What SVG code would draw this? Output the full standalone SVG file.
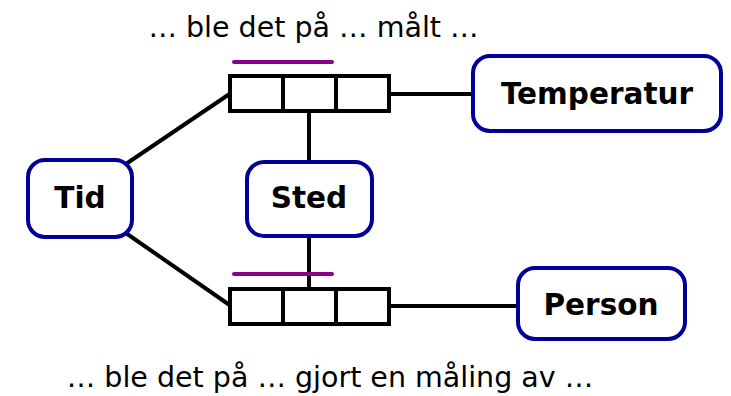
<svg xmlns="http://www.w3.org/2000/svg" width="731" height="396" viewBox="0 0 731 396">
<style>
.node{fill:#fff;stroke:#000099;stroke-width:4}
.lbl{font-family:"DejaVu Sans",Verdana,sans-serif;font-weight:bold;font-size:29.5px;text-anchor:middle;fill:#000}
.cap{font-family:"DejaVu Sans",Verdana,sans-serif;font-size:28.5px;text-anchor:middle;fill:#000}
.ln{stroke:#000;stroke-width:4;fill:none}
.cell{fill:#fff;stroke:#000;stroke-width:4}
.role{stroke:#8b008b;stroke-width:4;stroke-linecap:round}
</style>
<rect width="731" height="396" fill="#fff"/>
<g id="connectors">
<line class="ln" x1="120" y1="168" x2="231" y2="93"/>
<line class="ln" x1="120" y1="229" x2="231" y2="306"/>
<line class="ln" x1="389" y1="94" x2="473" y2="94"/>
<line class="ln" x1="389" y1="306" x2="518" y2="306"/>
<line class="ln" x1="309" y1="111" x2="309" y2="163"/>
<line class="ln" x1="309" y1="236" x2="309" y2="290"/>
</g>
<g id="fact-top">
<rect class="cell" x="230" y="76" width="53" height="35"/>
<rect class="cell" x="283" y="76" width="53" height="35"/>
<rect class="cell" x="336" y="76" width="53" height="35"/>
<line class="role" x1="234" y1="62" x2="332" y2="62"/>
<text class="cap" x="313.5" y="37">… ble det på … målt …</text>
</g>
<g id="fact-bottom">
<rect class="cell" x="230" y="289" width="53" height="35"/>
<rect class="cell" x="283" y="289" width="53" height="35"/>
<rect class="cell" x="336" y="289" width="53" height="35"/>
<line class="role" x1="234" y1="274" x2="332" y2="274"/>
<text class="cap" x="330" y="387">… ble det på … gjort en måling av …</text>
</g>
<g id="tid">
<rect class="node" x="28" y="160" width="104" height="77" rx="17"/>
<text class="lbl" x="80" y="208">Tid</text>
</g>
<g id="sted">
<rect class="node" x="247" y="162" width="125" height="74" rx="17"/>
<text class="lbl" x="309" y="208">Sted</text>
</g>
<g id="temperatur">
<rect class="node" x="473" y="56" width="248" height="75" rx="17"/>
<text class="lbl" x="597" y="104">Temperatur</text>
</g>
<g id="person">
<rect class="node" x="518" y="268" width="167" height="71" rx="17"/>
<text class="lbl" x="601" y="315">Person</text>
</g>
</svg>
